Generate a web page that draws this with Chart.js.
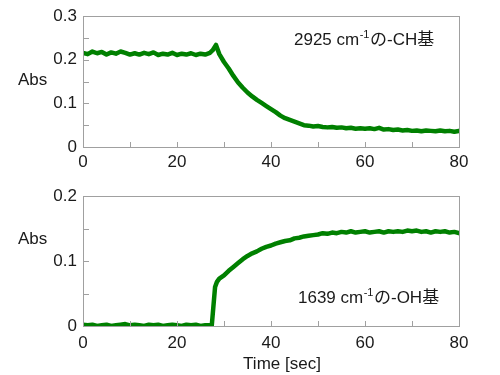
<!DOCTYPE html>
<html><head><meta charset="utf-8">
<script src="https://cdn.jsdelivr.net/npm/chart.js@4/dist/chart.umd.min.js"></script>
<style>
html,body{margin:0;padding:0;background:#fff;}
#wrap{position:relative;width:500px;height:375px;}
canvas{position:absolute;left:0;}
#c1{top:0;}
#c2{top:180px;}
</style></head>
<body><div id="wrap"><canvas id="c1" width="500" height="180"></canvas><canvas id="c2" width="500" height="195"></canvas></div>
<script>
// ---- data ----
const timeTop = [0,1,2,3,4,5,6,7,8,9,10,11,12,13,14,15,16,17,18,19,20,21,22,23,24,25,26,27,27.6,28.3,29,30,31,32,33,34,35,36,37,38,39,40,41,42,43,44,45,46,47,48,49,50,51,52,53,54,55,56,57,58,59,60,61,62,63,64,65,66,67,68,69,70,71,72,73,74,75,76,77,78,79,80];
const absCH = [.216,.213,.219,.215,.218,.212,.217,.214,.219,.216,.212,.215,.212,.216,.213,.217,.211,.214,.212,.216,.211,.214,.212,.215,.211,.214,.212,.216,.222,.234,.213,.195,.180,.163,.148,.136,.125,.116,.108,.101,.094,.087,.080,.072,.066,.062,.058,.054,.050,.049,.047,.048,.046,.045,.046,.044,.045,.043,.044,.042,.043,.042,.043,.041,.044,.040,.041,.039,.040,.038,.039,.037,.038,.036,.038,.037,.036,.038,.036,.037,.035,.037];
const timeBottom = [0,1,2,3,4,5,6,7,8,9,10,11,12,13,14,15,16,17,18,19,20,21,22,23,24,25,26,27,27.4,28.1,28.5,29,30,31,32,33,34,35,36,37,38,39,40,41,42,43,44,45,46,47,48,49,50,51,52,53,54,55,56,57,58,59,60,61,62,63,64,65,66,67,68,69,70,71,72,73,74,75,76,77,78,79,80];
const absOH = [.002,.001,.002,.000,.001,.002,.000,.001,.002,.003,.001,.002,.001,.000,.002,.001,.002,.000,.001,.002,.001,.000,.002,.001,.002,.000,.001,.001,.001,.060,.068,.073,.078,.085,.091,.097,.103,.108,.112,.115,.119,.122,.124,.127,.129,.131,.132,.135,.136,.138,.139,.140,.141,.143,.142,.144,.143,.145,.144,.146,.144,.145,.146,.144,.145,.146,.144,.146,.145,.146,.145,.147,.146,.147,.145,.146,.144,.146,.145,.146,.144,.145,.143];
const xTickMarks = [10,20,30,40,50,60,70];
const yTickMarksTop = [0.05,0.1,0.15,0.2,0.25];
const yTickMarksBottom = [0.05,0.1,0.15];
const yLabel = 'Abs';
const xLabel = 'Time [sec]';
const noteTop = ['2925 cm','-1','の-CH基'];
const noteBottom = ['1639 cm','-1','の-OH基'];

const GREEN = 'rgb(0,128,0)';
const FONT = "'Liberation Sans', Arial, 'Noto Sans CJK JP', sans-serif";
const BOX = '#a0a0a0';
const TXT = '#1a1a1a';

function frame(yTicks, note, noteX, noteBase, absBase, timeBase){
  return {
    id:'frame',
    afterDraw(chart){
      const ctx = chart.ctx, a = chart.chartArea;
      const xs = chart.scales.x, ys = chart.scales.y;
      ctx.save();
      ctx.strokeStyle = BOX; ctx.lineWidth = 1;
      ctx.strokeRect(Math.round(a.left)+0.5, Math.round(a.top)+0.5, Math.round(a.right-a.left), Math.round(a.bottom-a.top));
      ctx.beginPath();
      xTickMarks.forEach(v=>{const px=Math.round(xs.getPixelForValue(v))+0.5; ctx.moveTo(px,a.bottom); ctx.lineTo(px,a.bottom-5);});
      yTicks.forEach(v=>{const py=Math.round(ys.getPixelForValue(v))+0.5; ctx.moveTo(a.left,py); ctx.lineTo(a.left+6,py);});
      ctx.stroke();
      ctx.fillStyle = TXT;
      ctx.textBaseline = 'alphabetic';
      ctx.textAlign = 'left';
      ctx.font = '17px ' + FONT;
      ctx.fillText(yLabel, 18, absBase);
      // annotation
      let x = noteX;
      ctx.font = '17px ' + FONT;
      ctx.fillText(note[0], x, noteBase); x += ctx.measureText(note[0]).width + 0.5;
      ctx.font = '11px ' + FONT;
      ctx.fillText(note[1], x, noteBase-7); x += ctx.measureText(note[1]).width + 0.5;
      ctx.font = '17px ' + FONT;
      ctx.fillText(note[2], x, noteBase);
      if (timeBase){
        ctx.textAlign='center';
        ctx.fillText(xLabel, 282, timeBase);
      }
      ctx.restore();
    }
  };
}

function makeChart(id, times, vals, ymax, xAxisH, xPad, pad, plug){
  const pts = times.map((t,i)=>({x:t,y:vals[i]}));
  return new Chart(document.getElementById(id), {
    type:'line',
    data:{datasets:[{data:pts, borderColor:GREEN, borderWidth:4.5, pointRadius:0, tension:0, fill:false, borderCapStyle:'round', borderJoinStyle:'round'}]},
    options:{
      responsive:false, animation:false, devicePixelRatio:1,
      layout:{padding:pad},
      plugins:{legend:{display:false}, tooltip:{enabled:false}},
      scales:{
        x:{type:'linear', min:0, max:80, grid:{display:false, drawTicks:false}, border:{display:false},
           ticks:{stepSize:20, padding:xPad, color:TXT, font:{family:FONT, size:17}, maxRotation:0},
           afterFit(s){ s.height = xAxisH; }},
        y:{type:'linear', min:0, max:ymax, grid:{display:false, drawTicks:false}, border:{display:false},
           ticks:{stepSize:0.1, padding:6, color:TXT, font:{family:FONT, size:17}, callback:v=> v===0 ? '0' : v.toFixed(1)},
           afterFit(s){ s.width = 83; }}
      }
    },
    plugins:[plug]
  });
}

makeChart('c1', timeTop, absCH, 0.3, 33, 5, {top:13, right:41, left:0, bottom:0},
  frame(yTickMarksTop, noteTop, 294, 44.5, 85, null));
makeChart('c2', timeBottom, absOH, 0.2, 49, 7, {top:11, right:41, left:0, bottom:0},
  frame(yTickMarksBottom, noteBottom, 298, 122.5, 64, 188.5));
</script></body></html>
